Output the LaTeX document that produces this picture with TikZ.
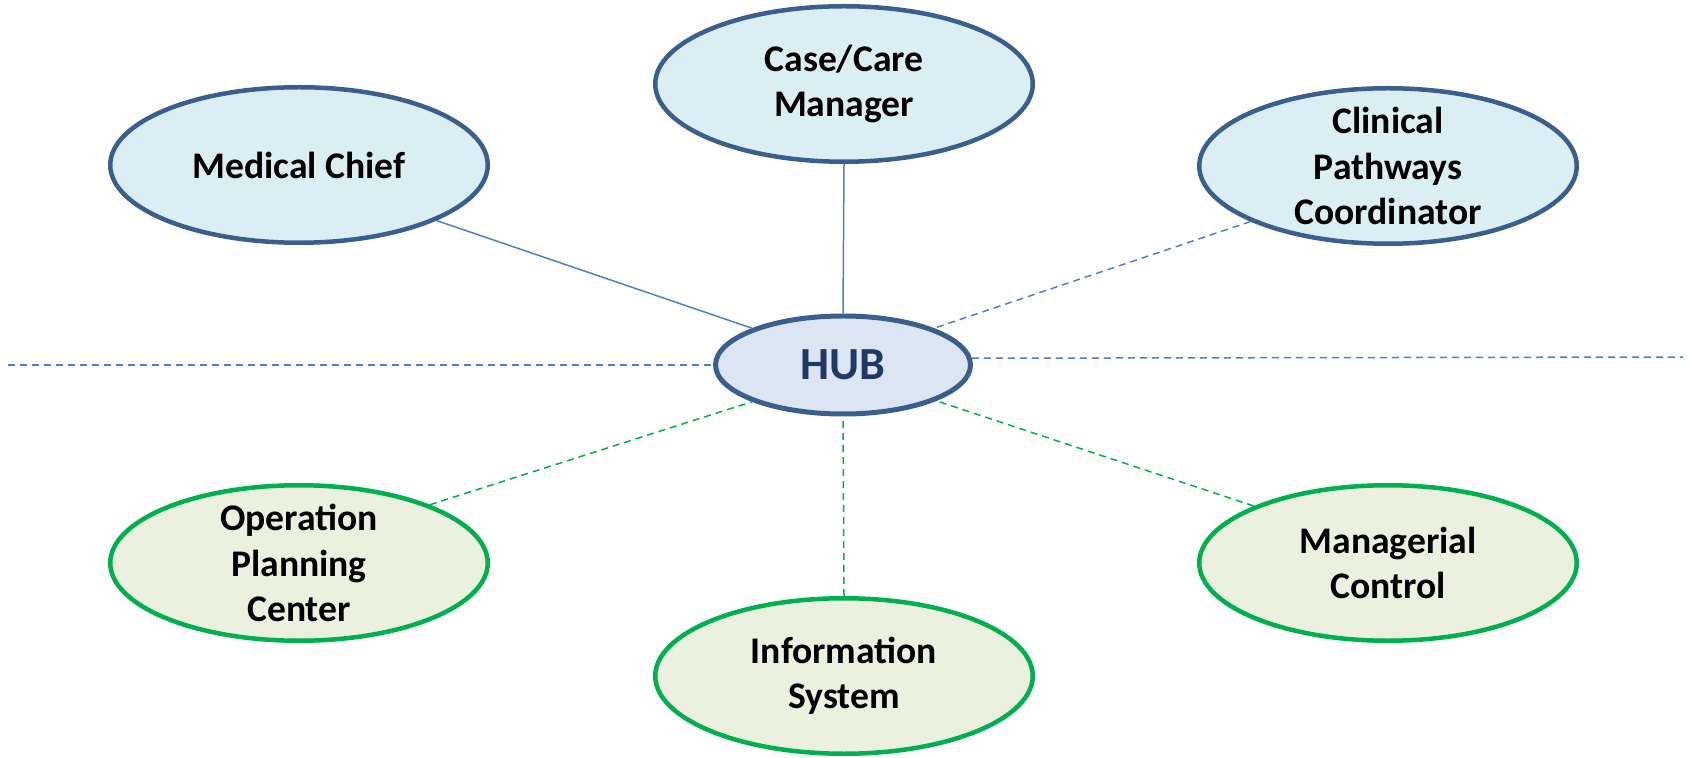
\documentclass[tikz,border=0pt]{standalone}
\usepackage{fontspec}
\setmainfont{Carlito}
\usetikzlibrary{positioning,shapes.geometric}
\definecolor{roleline}{HTML}{3A5F8F}
\definecolor{rolefill}{HTML}{DAEEF3}
\definecolor{hubfill}{HTML}{DCE6F2}
\definecolor{hubtext}{HTML}{1F3864}
\definecolor{supline}{HTML}{00B050}
\definecolor{supfill}{HTML}{EBF1DE}
\definecolor{linkblue}{HTML}{4F81BD}
\tikzset{
  role/.style={ellipse, draw=roleline, fill=rolefill, line width=2.25pt,
    minimum width=188.75pt, minimum height=77.75pt, inner xsep=0pt, inner ysep=-14pt,
    align=center, font=\fontsize{18.8}{22.6}\selectfont\bfseries},
  support/.style={role, draw=supline, fill=supfill},
  hub/.style={ellipse, draw=roleline, fill=hubfill, line width=2.5pt,
    minimum width=127.5pt, minimum height=49pt, inner sep=0pt,
    text=hubtext, font=\fontsize{23}{27}\selectfont\bfseries},
  solid link/.style={linkblue, line width=0.75pt},
  blue link/.style={linkblue, line width=0.75pt, dash pattern=on 3.5pt off 2.5pt},
  green link/.style={supline, line width=0.75pt, dash pattern=on 3.5pt off 2.5pt}
}
\begin{document}
\begin{tikzpicture}[x=0.5pt, y=-0.5pt]
  \useasboundingbox (0,0) rectangle (1690,758);
  \node (HUB) [hub] at (843,365) {HUB};

  \node (MC) [role] at (299,165) {Medical Chief};
  \node (CM) [role] at (844,84) {Case/Care\\Manager};
  \node (CP) [role] at (1388,166) {Clinical\\Pathways\\Coordinator};

  \node (OP) [support] at (299,563) {Operation\\Planning\\Center};
  \node (IS) [support] at (844,676) {Information\\System};
  \node (MG) [support] at (1388,563) {Managerial\\Control};

  \coordinate (lft) at (8,365);
  \coordinate (rgt) at (1683,357);

  \draw[solid link] (MC.-22) -- (HUB.158);
  \draw[solid link] (CM.south) -- (HUB.north);
  \draw[blue link] (CP.-158) -- (HUB.22);
  \draw[blue link] (lft) -- (HUB.west);
  \draw[blue link] (HUB.3.6) -- (rgt);
  \draw[green link] (OP.24) -- (HUB.-158);
  \draw[green link] (IS.north) -- (HUB.south);
  \draw[green link] (MG.157) -- (HUB.-21);
\end{tikzpicture}
\end{document}
